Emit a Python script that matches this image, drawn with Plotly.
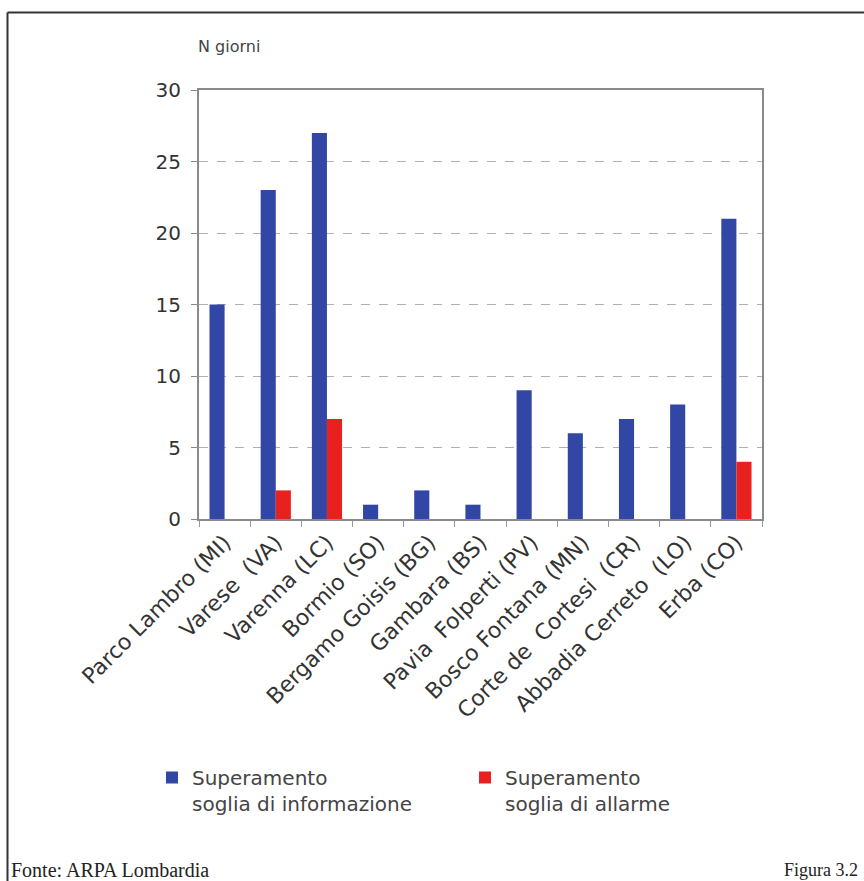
import plotly.graph_objects as go

# Stazioni e giorni di superamento (ozono)
stazioni = [
    "Parco Lambro (MI)",
    "Varese\u00a0 (VA)",
    "Varenna (LC)",
    "Bormio (SO)",
    "Bergamo Goisis (BG)",
    "Gambara (BS)",
    "Pavia\u00a0 Folperti (PV)",
    "Bosco Fontana (MN)",
    "Corte de\u00a0 Cortesi\u00a0 (CR)",
    "Abbadia Cerreto\u00a0 (LO)",
    "Erba (CO)",
]
soglia_informazione = [15, 23, 27, 1, 2, 1, 9, 6, 7, 8, 21]
soglia_allarme = [0, 2, 7, 0, 0, 0, 0, 0, 0, 0, 4]
y_ticks = [0, 5, 10, 15, 20, 25, 30]

W, H = 864, 881
ML, MR, MT, MB = 199, 102, 90, 362
PW, PH = W - ML - MR, H - MT - MB

def px_x(px):
    return (px - ML) / PW

def px_y(py):
    return (H - MB - py) / PH

font_chart = "DejaVu Sans, Verdana, sans-serif"
font_serif = "Liberation Serif, Times New Roman, serif"

fig = go.Figure()
fig.add_trace(go.Bar(
    x=stazioni, y=soglia_informazione,
    name="Superamento<br>soglia di informazione",
    marker=dict(color="#3246A6", line=dict(width=0)),
))
fig.add_trace(go.Bar(
    x=stazioni, y=soglia_allarme,
    name="Superamento<br>soglia di allarme",
    marker=dict(color="#E8201E", line=dict(width=0)),
))

fig.update_layout(
    width=W, height=H,
    margin=dict(l=ML, r=MR, t=MT, b=MB),
    paper_bgcolor="white", plot_bgcolor="white",
    barmode="group", bargap=0.41, bargroupgap=0,
    font=dict(family=font_chart, color="#333333"),
    showlegend=True,
    legend=dict(
        orientation="h",
        x=px_x(152), y=px_y(758), xanchor="left", yanchor="top",
        valign="top",
        font=dict(size=20, family=font_chart, color="#444444"),
        entrywidth=268, entrywidthmode="pixels",
        itemsizing="constant", bgcolor="rgba(0,0,0,0)",
    ),
    xaxis=dict(
        type="category", tickangle=-45, tickson="boundaries",
        ticks="outside", ticklen=6, tickcolor="#999999",
        showline=True, linecolor="#8a8a8a", linewidth=2, mirror=True,
        showgrid=False,
        tickfont=dict(size=22, family=font_chart, color="#333333"),
    ),
    yaxis=dict(
        range=[0, 30], tickvals=y_ticks,
        ticks="outside", ticklen=6, tickcolor="#8a8a8a",
        ticklabelstandoff=6,
        showline=True, linecolor="#8a8a8a", linewidth=2, mirror=True,
        showgrid=True, gridcolor="#b0b0b0", griddash="dash", gridwidth=1,
        zeroline=False,
        tickfont=dict(size=20, family=font_chart, color="#333333"),
    ),
    annotations=[
        dict(text="N giorni", xref="paper", yref="paper",
             x=px_x(196), y=px_y(47), xanchor="left", yanchor="middle",
             showarrow=False, font=dict(size=16, family=font_chart, color="#444444")),
        dict(text="Fonte: ARPA Lombardia", xref="paper", yref="paper",
             x=px_x(9), y=px_y(870), xanchor="left", yanchor="middle",
             showarrow=False, font=dict(size=20, family=font_serif, color="#222222")),
        dict(text="Figura 3.2", xref="paper", yref="paper",
             x=px_x(860), y=px_y(870), xanchor="right", yanchor="middle",
             showarrow=False, font=dict(size=18, family=font_serif, color="#222222")),
    ],
    shapes=[
        dict(type="line", xref="paper", yref="paper",
             x0=px_x(7.5), x1=px_x(870), y0=px_y(12.5), y1=px_y(12.5),
             line=dict(color="#333333", width=2)),
        dict(type="line", xref="paper", yref="paper",
             x0=px_x(7.5), x1=px_x(7.5), y0=px_y(12.5), y1=px_y(890),
             line=dict(color="#333333", width=2)),
    ],
)

fig.write_html("out.html")
